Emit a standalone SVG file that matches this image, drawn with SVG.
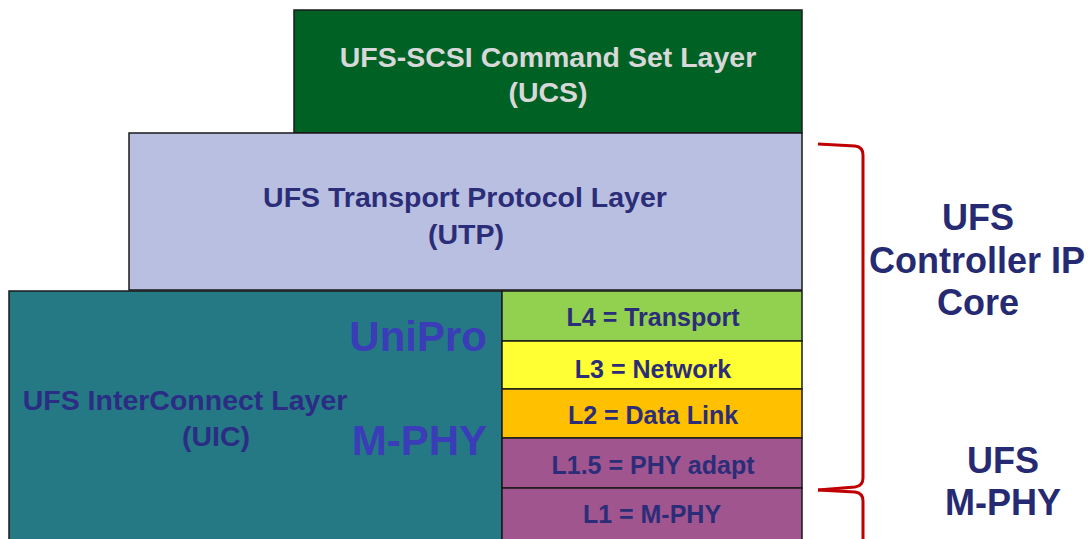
<svg xmlns="http://www.w3.org/2000/svg" width="1090" height="539" viewBox="0 0 1090 539">
<style>
.box{stroke:#1a1a1a;stroke-width:1.5}
.t{font-family:"Liberation Sans",Arial,sans-serif;font-weight:bold;text-anchor:middle}
.hd{font-size:28.5px}
.lay{font-size:25px;fill:#2b2d78}
.big{font-size:42px;fill:#3a3cb8;text-anchor:end}
.side{font-size:36px;fill:#262a72}
.br{fill:none;stroke:#c00000;stroke-width:3;stroke-linejoin:round}
</style>
<rect width="1090" height="539" fill="#ffffff"/>
<g id="ucs">
<rect class="box" x="294" y="10" width="508" height="123" fill="#006125"/>
<text class="t hd" x="548" y="67" fill="#d8d8d8">UFS-SCSI Command Set Layer</text>
<text class="t hd" x="548" y="102" fill="#d8d8d8">(UCS)</text>
</g>
<g id="utp">
<rect class="box" x="129" y="133" width="673" height="157" fill="#b9bfe1"/>
<text class="t hd" x="465" y="207" fill="#2b2d78">UFS Transport Protocol Layer</text>
<text class="t hd" x="466" y="244" fill="#2b2d78">(UTP)</text>
</g>
<g id="uic">
<rect class="box" x="9" y="291" width="493" height="252" fill="#247984"/>
<text class="t hd" x="185" y="410" fill="#2b2d85">UFS InterConnect Layer</text>
<text class="t hd" x="216" y="446" fill="#2b2d85">(UIC)</text>
<text class="t big" x="487" y="351">UniPro</text>
<text class="t big" x="487" y="455">M-PHY</text>
</g>
<g id="l4">
<rect class="box" x="502" y="291" width="300" height="50" fill="#92d050"/>
<text class="t lay" x="653" y="326">L4 = Transport</text>
</g>
<g id="l3">
<rect class="box" x="502" y="341" width="300" height="48" fill="#ffff33"/>
<text class="t lay" x="653" y="378">L3 = Network</text>
</g>
<g id="l2">
<rect class="box" x="502" y="389" width="300" height="49" fill="#ffc000"/>
<text class="t lay" x="653" y="424">L2 = Data Link</text>
</g>
<g id="l15">
<rect class="box" x="502" y="438" width="300" height="50" fill="#a0558f"/>
<text class="t lay" x="653" y="474">L1.5 = PHY adapt</text>
</g>
<g id="l1">
<rect class="box" x="502" y="488" width="300" height="55" fill="#a0558f"/>
<text class="t lay" x="652" y="523">L1 = M-PHY</text>
</g>
<g id="connectors">
<path class="br" d="M818,144 L855,146 Q863,147 863,155 L863,478 Q863,486 855,487 L818,490"/>
<path class="br" d="M818,490 L855,492 Q863,493 863,501 L863,539"/>
</g>
<g id="controller-label">
<text class="t side" x="978" y="230">UFS</text>
<text class="t side" x="977" y="273">Controller IP</text>
<text class="t side" x="978" y="315">Core</text>
</g>
<g id="mphy-label">
<text class="t side" x="1003" y="473">UFS</text>
<text class="t side" x="1003" y="515">M-PHY</text>
</g>
</svg>
